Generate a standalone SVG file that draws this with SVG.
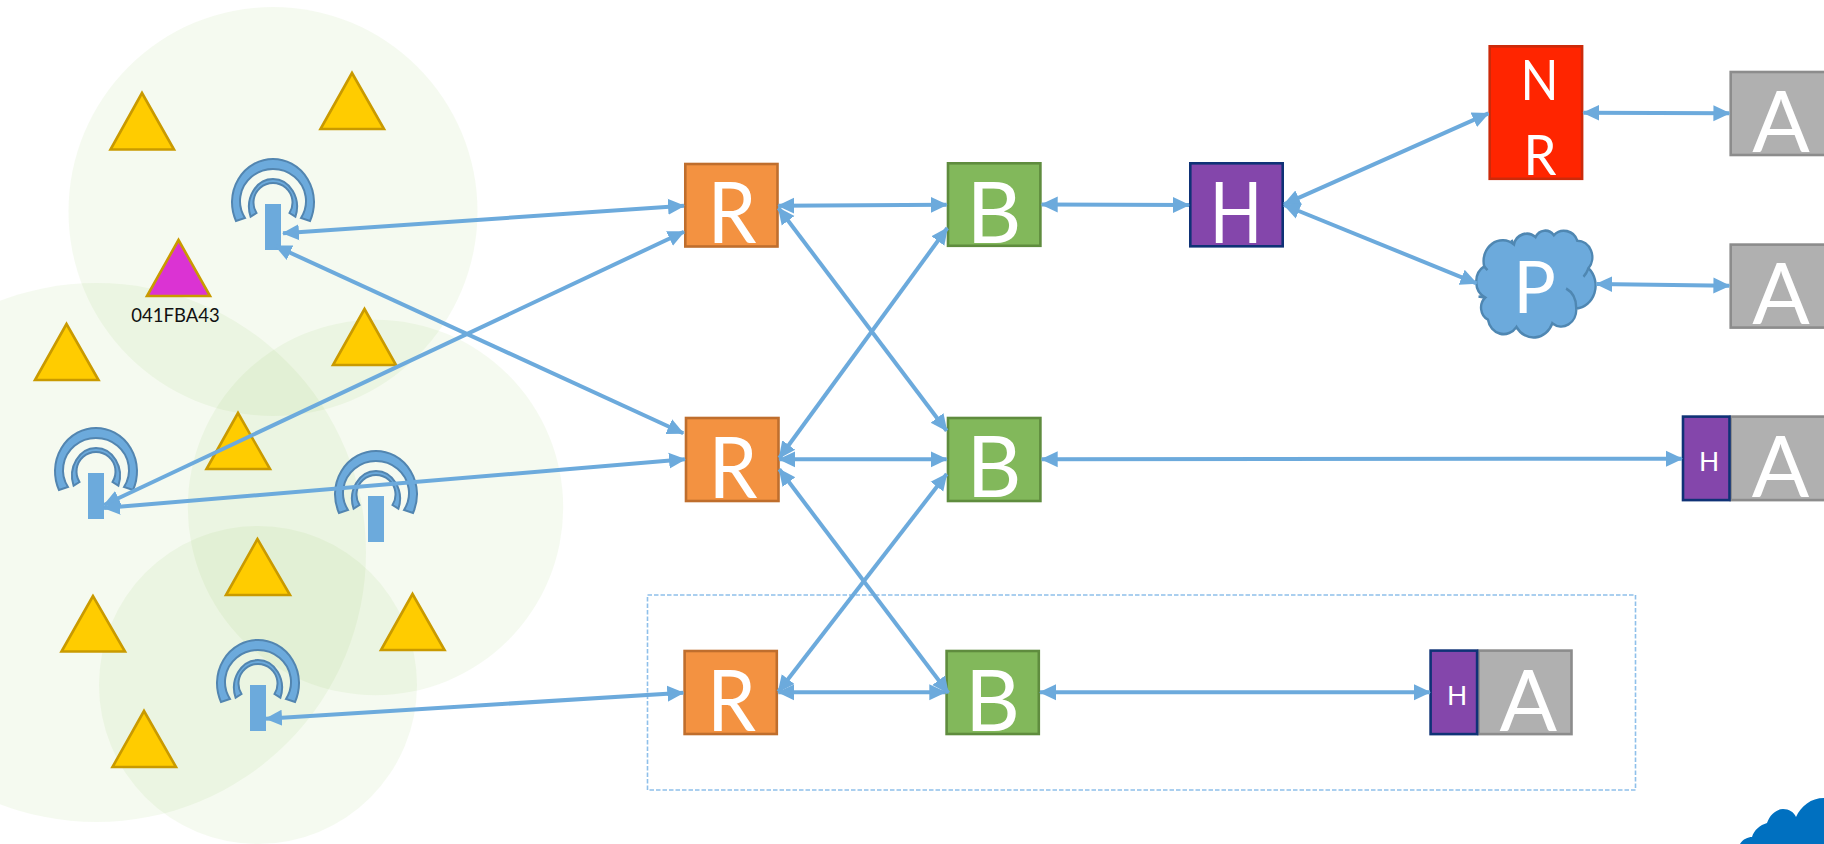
<svg xmlns="http://www.w3.org/2000/svg" width="1824" height="844" viewBox="0 0 1824 844">
<style>
.zone{fill:#80c43c;fill-opacity:.08}
.tri{fill:#ffcc00;stroke:#c99a00;stroke-width:2.6}
.mag{fill:#db33d3;stroke:#c99a00;stroke-width:2.6}
.r{fill:#f39241;stroke:#bf6e2d;stroke-width:2.6}
.b{fill:#82b85b;stroke:#5f8c3e;stroke-width:2.6}
.h{fill:#8446ab;stroke:#0f3276;stroke-width:2.6}
.n{fill:#ff2500;stroke:#cc2a0a;stroke-width:2.6}
.a{fill:#b0b0b0;stroke:#8c8c8c;stroke-width:2.6}
.cl{fill:#6caadc;stroke:#4f87b2;stroke-width:2.4}
.clx{fill:none;stroke:#4f87b2;stroke-width:2.4}
.ring{fill:#6caadc;stroke:#5285b0;stroke-width:2}
.bar{fill:#6caadc}
.t{font-family:Lato,"Liberation Sans",sans-serif;fill:#fff;text-anchor:middle}
.big{font-size:85px}
.mid{font-size:57px}
.p{font-size:71px}
.sm{font-size:26.5px}
.lab{font-family:Lato,"Liberation Sans",sans-serif;font-size:18.5px;fill:#111;text-anchor:middle}
.c{fill:none;stroke:#6caadc;stroke-width:4;marker-start:url(#ah);marker-end:url(#ah)}
.dash{fill:none;stroke:#8fc0ea;stroke-width:1.6;stroke-dasharray:4.5 2}
</style>
<defs>
<marker id="ah" markerUnits="userSpaceOnUse" markerWidth="18" markerHeight="18" refX="16" refY="9" orient="auto-start-reverse" viewBox="0 0 18 18"><path d="M0 1L17 9L0 17Z" fill="#6caadc"/></marker>
<g id="ant">
<path class="ring" d="M236 221A41 43.400 0 1 1 310 221L301 218A33 32 0 1 0 245 218Z"/>
<path class="ring" d="M250.600 216.700A24 27.700 0 1 1 295.400 216.700L289.500 213A19.500 19.600 0 1 0 256.500 213Z"/>
<rect class="bar" x="265" y="204" width="16" height="46"/>
</g>
</defs>
<g id="zones">
<circle class="zone" cx="273" cy="211.500" r="204.500"/>
<circle class="zone" cx="96.500" cy="552.500" r="269.500"/>
<circle class="zone" cx="375.500" cy="507.500" r="187.700"/>
<circle class="zone" cx="258" cy="685" r="159"/>
</g>
<g id="sensors">
<path class="tri" d="M142 93L110.500 149.500H174Z"/>
<path class="tri" d="M352 73L320.500 129H384Z"/>
<g id="sensor-041FBA43"><path class="mag" d="M178.500 240L147 296H210Z"/><text class="lab" x="175.500" y="322">041FBA43</text></g>
<path class="tri" d="M66.500 324L35 380H98.500Z"/>
<path class="tri" d="M364.500 309L333 365H396Z"/>
<path class="tri" d="M238 413L206.500 469H270Z"/>
<path class="tri" d="M257.500 539L226 595H290Z"/>
<path class="tri" d="M93 596L61.500 651.500H125Z"/>
<path class="tri" d="M412.500 594L381 650H444.500Z"/>
<path class="tri" d="M144 711L112.500 767H176Z"/>
</g>
<g id="antennas">
<use id="ant1" href="#ant"/>
<use id="ant2" href="#ant" x="-177" y="269"/>
<use id="ant3" href="#ant" x="103" y="292"/>
<use id="ant4" href="#ant" x="-15" y="481"/>
</g>
<rect id="scope" class="dash" x="647.500" y="595" width="988" height="195"/>
<g id="R1"><rect class="r" x="685.300" y="164" width="92.200" height="82.500"/><text class="t big" x="732" y="243.300" textLength="49" lengthAdjust="spacingAndGlyphs">R</text></g>
<g id="R2"><rect class="r" x="686" y="418" width="92.500" height="83"/><text class="t big" x="733" y="498" textLength="49" lengthAdjust="spacingAndGlyphs">R</text></g>
<g id="R3"><rect class="r" x="684.600" y="651" width="92.200" height="83"/><text class="t big" x="731.500" y="730.700" textLength="49" lengthAdjust="spacingAndGlyphs">R</text></g>
<g id="B1"><rect class="b" x="948" y="163.300" width="92.400" height="82.500"/><text class="t big" x="994" y="242.700">B</text></g>
<g id="B2"><rect class="b" x="948" y="418" width="92.400" height="83"/><text class="t big" x="994" y="497">B</text></g>
<g id="B3"><rect class="b" x="946.600" y="651" width="92.200" height="83"/><text class="t big" x="992.500" y="730.700">B</text></g>
<g id="H1"><rect class="h" x="1190.300" y="163.300" width="92.400" height="83"/><text class="t big" x="1236" y="242.700" textLength="53" lengthAdjust="spacingAndGlyphs">H</text></g>
<g id="NR"><rect class="n" x="1489.700" y="46.300" width="92.400" height="132.500"/><text class="t mid" x="1539.500" y="100" textLength="38" lengthAdjust="spacingAndGlyphs">N</text><text class="t mid" x="1540" y="175" textLength="33" lengthAdjust="spacingAndGlyphs">R</text></g>
<g id="P"><g transform="translate(-3.500 -26.900) scale(1 1.100)"><path class="cl" d="M1487.700 266.700A19 19 0 0 1 1517.500 246.700A13 12 0 0 1 1539 240A11 11 0 0 1 1557.300 238.300A14 13 0 0 1 1580.800 243.300A15 15 0 0 1 1592 268.300A21 21 0 0 1 1579.700 305A15 15 0 0 1 1555.800 318.300A20 20 0 0 1 1520 321.700A16 16 0 0 1 1491.400 315A12 12 0 0 1 1488.800 295A16 16 0 0 1 1487.700 266.700Z"/><path class="clx" d="M1569.600 286.700Q1580 292 1579.700 305M1592 268.300Q1590 273 1587 276M1517.500 246.700L1515 242.500M1487.700 266.700L1491 270M1488.800 295L1482 294"/></g><text class="t p" x="1534.500" y="313.300">P</text></g>
<g id="A1"><rect class="a" x="1730.700" y="72" width="96" height="83"/><text class="t big" x="1781" y="152">A</text></g>
<g id="A2"><rect class="a" x="1730.700" y="244.600" width="96" height="83"/><text class="t big" x="1781" y="324">A</text></g>
<g id="A3"><rect class="a" x="1730.700" y="416.600" width="96" height="83.500"/><text class="t big" x="1780.500" y="496.700">A</text></g>
<g id="H2"><rect class="h" x="1683" y="416.600" width="46.500" height="83.500"/><text class="t sm" x="1709.200" y="470.700">H</text></g>
<g id="A4"><rect class="a" x="1478.500" y="650.600" width="93" height="83.500"/><text class="t big" x="1528.300" y="730.700">A</text></g>
<g id="H3"><rect class="h" x="1430.600" y="650.600" width="46.500" height="83.500"/><text class="t sm" x="1457" y="705">H</text></g>
<path id="corner-cloud" fill="#0070c0" d="M1740 844C1743 839 1748 837 1752 837C1754 830 1760 825 1767 823C1770 814 1777 809 1783 809C1789 809 1794 812 1796 817C1801 806 1811 798 1824 798V844Z"/>
<g id="connectors">
<line class="c" x1="283" y1="233.300" x2="684" y2="205.700"/>
<line class="c" x1="275.500" y1="246" x2="683.300" y2="433.300"/>
<line class="c" x1="104" y1="505" x2="684" y2="231.700"/>
<line class="c" x1="104" y1="508" x2="685" y2="459.300"/>
<line class="c" x1="266" y1="718.700" x2="683.300" y2="692.700"/>
<line class="c" x1="778.300" y1="205.700" x2="946.700" y2="204.700"/>
<line class="c" x1="778.500" y1="208" x2="946.700" y2="430.700"/>
<line class="c" x1="779.300" y1="458" x2="947.300" y2="228"/>
<line class="c" x1="779.300" y1="459.300" x2="946.700" y2="459.300"/>
<line class="c" x1="779.300" y1="469.300" x2="948.300" y2="693"/>
<line class="c" x1="778.300" y1="691.700" x2="946.700" y2="474"/>
<line class="c" x1="778.300" y1="692.300" x2="945.300" y2="692.300"/>
<line class="c" x1="1041.700" y1="204.500" x2="1189" y2="205"/>
<line class="c" x1="1041.700" y1="459.300" x2="1682" y2="458.700"/>
<line class="c" x1="1040" y1="692.300" x2="1430" y2="692.300"/>
<line class="c" x1="1284" y1="204.300" x2="1488.400" y2="113.300"/>
<line class="c" x1="1284" y1="205" x2="1476.500" y2="283.300"/>
<line class="c" x1="1583.400" y1="112.700" x2="1729.400" y2="113.300"/>
<line class="c" x1="1596.400" y1="284" x2="1729.400" y2="285.700"/>
</g>
</svg>
